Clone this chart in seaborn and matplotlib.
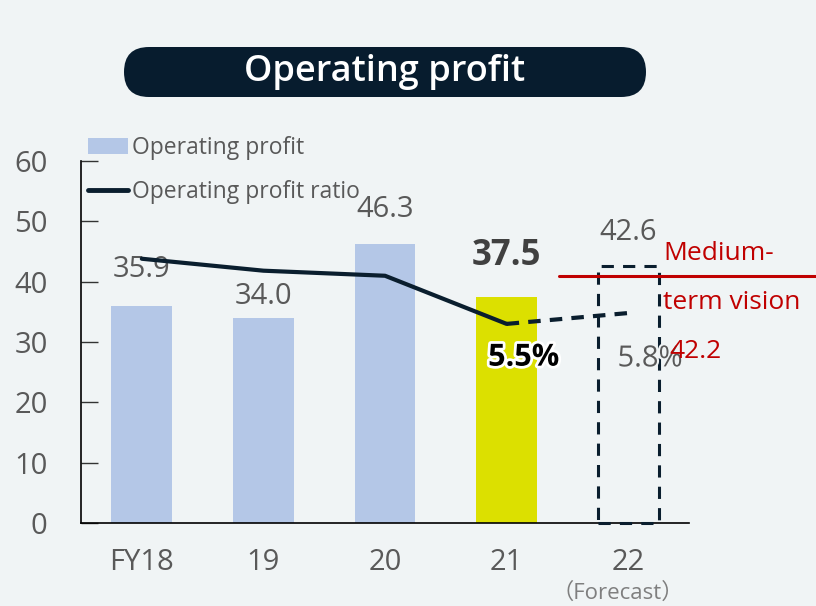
import matplotlib
matplotlib.use("Agg")
import numpy as np
import pandas as pd
import seaborn as sns
from matplotlib import pyplot as plt
from matplotlib.patches import FancyBboxPatch, Patch
from matplotlib.lines import Line2D
import matplotlib.patheffects as pe

# data
years = ["FY18", "19", "20", "21", "22"]
profit = [35.9, 34.0, 46.3, 37.5]
forecast_profit = 42.6
ratio = [7.3, 6.97, 6.83, 5.5, 5.8]
vision_profit = 41.0
vision_label = "42.2"

BG = "#F0F4F5"
NAVY = "#0A1E2E"
BLUE = "#B4C7E7"
YELLOW = "#DCE000"
GRAY = "#595959"
RED = "#C00000"

sns.set_style("white")
plt.rcParams["font.family"] = ["Open Sans", "Noto Sans CJK JP", "DejaVu Sans"]

fig = plt.figure(figsize=(8.16, 6.06), dpi=100, facecolor=BG)
ax = fig.add_axes([0.0993, 0.137, 0.7451, 0.5973], facecolor=BG)

df = pd.DataFrame({"year": years[:4], "profit": profit})
sns.barplot(data=df, x="year", y="profit", hue="year", order=years,
            palette=[BLUE, BLUE, BLUE, YELLOW], width=0.5, legend=False,
            saturation=1, linewidth=0, ax=ax)
# forecast bar: dashed outline only
ax.bar(4, forecast_profit, width=0.5, fill=False, edgecolor=NAVY,
       linewidth=2.2, linestyle=(0, (4, 3)), zorder=3, clip_on=False)

ax.set_xlim(-0.5, 4.5)
ax.set_ylim(0, 60)
ax.set_yticks(range(0, 61, 10))
ax.set_xticks(np.arange(-0.5, 4.6, 1))
ax.set_xticklabels([])
ax.set_xticks(range(5), minor=True)
ax.set_xticklabels(years, minor=True)
ax.tick_params(axis="x", which="major", direction="in", length=11, width=1, color="#333333")
ax.tick_params(axis="x", which="minor", length=0, pad=18, labelsize=21, labelcolor=GRAY)
ax.tick_params(axis="y", direction="in", length=12, width=1, color="#333333",
               pad=24, labelsize=21, labelcolor=GRAY)
ax.set_xlabel("")
ax.set_ylabel("")
for s in ["top", "right"]:
    ax.spines[s].set_visible(False)
for s in ["left", "bottom"]:
    ax.spines[s].set_color("black")
    ax.spines[s].set_linewidth(1.2)

ax.text(4 - 0.09, -11.6, "（Forecast）", ha="center", va="center", fontsize=16,
        color="#7F7F7F")

# ratio line on hidden secondary axis
ax2 = ax.twinx()
ax2.set_ylim(0, 10)
ax2.axis("off")
xs = np.arange(len(ratio))
sns.lineplot(x=xs[:4], y=ratio[:4], color=NAVY, linewidth=3, ax=ax2)
ax2.plot(xs[3:], ratio[3:], color=NAVY, linewidth=3, linestyle=(0, (3, 2.2)))

# value labels
label_offsets = [6.1, 3.5, 5.6]
for i, v in enumerate(profit[:3]):
    ax.text(i, v + label_offsets[i], f"{v:.1f}", ha="center", va="center",
            fontsize=21, color=GRAY, zorder=5)
ax.text(3, profit[3] + 6.8, f"{profit[3]:.1f}", ha="center", va="center",
        fontsize=25, fontweight="bold", color="#404040", zorder=5)
ax.text(4, forecast_profit + 5.5, f"{forecast_profit:.1f}", ha="center",
        va="center", fontsize=21, color=GRAY, zorder=5)

halo = [pe.withStroke(linewidth=4, foreground="white")]
ax.text(3.14, 27.4, f"{ratio[3]:.1f}%", ha="center", va="center", fontsize=22,
        fontweight="bold", color="black", path_effects=halo, zorder=6)
ax.text(4.18, 27.2, f"{ratio[4]:.1f}%", ha="center", va="center", fontsize=21,
        color=GRAY, path_effects=[pe.withStroke(linewidth=3, foreground=BG)], zorder=6)

# medium-term vision
ax.plot([3.43, 5.6], [vision_profit, vision_profit], color=RED, linewidth=2.2,
        clip_on=False, zorder=4)
ax.text(4.29, 44.6, "Medium-", ha="left", va="center", fontsize=19, color=RED)
ax.text(4.29, 36.6, "term vision", ha="left", va="center", fontsize=19, color=RED)
ax.text(4.55, 28.4, vision_label, ha="center", va="center", fontsize=19, color=RED, zorder=7)

# legend
handles = [Patch(facecolor=BLUE, edgecolor="none"),
           Line2D([0], [0], color=NAVY, linewidth=3.5)]
fig.legend(handles, ["Operating profit", "Operating profit ratio"],
           loc="upper left", bbox_to_anchor=(0.108, 0.775), frameon=False,
           fontsize=16.5, handlelength=1.75, handletextpad=0.15, labelspacing=0.85,
           borderpad=0, borderaxespad=0, labelcolor=GRAY)

# title pill
tax = fig.add_axes([0, 0, 1, 1], facecolor="none")
tax.set_xlim(0, 816)
tax.set_ylim(606, 0)
tax.axis("off")
tax.add_patch(FancyBboxPatch((124, 47), 522, 50,
                             boxstyle="round,pad=0,rounding_size=25",
                             facecolor="#071C2E", edgecolor="none"))
tax.text(385, 72, "Operating profit", ha="center", va="center", fontsize=26,
         fontweight="semibold", color="white")

fig.savefig("out.png", dpi=100, facecolor=BG)
